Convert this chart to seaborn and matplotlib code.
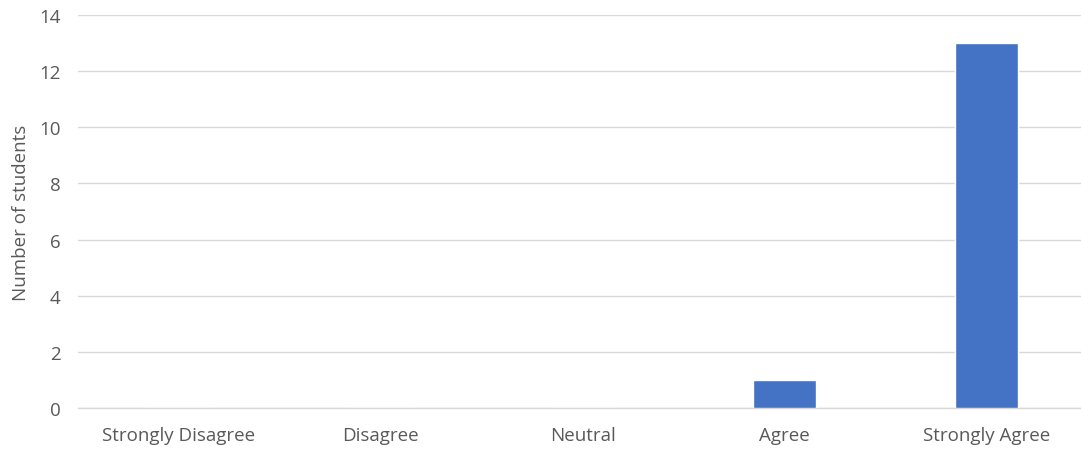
import pandas as pd
import matplotlib
matplotlib.use("Agg")
import matplotlib.pyplot as plt
import seaborn as sns

# survey responses
categories = ["Strongly Disagree", "Disagree", "Neutral", "Agree", "Strongly Agree"]
counts = [0, 0, 0, 1, 13]
y_ticks = [0, 2, 4, 6, 8, 10, 12, 14]

df = pd.DataFrame({"Response": categories, "Students": counts})

sns.set_style("white")
plt.rcParams["font.family"] = ["Open Sans", "DejaVu Sans"]

fig = plt.figure(figsize=(10.81, 4.52), dpi=100)
ax = fig.add_axes([77.5 / 1081, 1 - 409 / 452, 1003.5 / 1081, (409 - 16) / 452])

sns.barplot(data=df, x="Response", y="Students", color="#4472C4",
            width=0.31, saturation=1, ax=ax, zorder=3)

ax.set_xlim(-0.5, -0.5 + 1003.5 / 202)
ax.set_ylim(0, 14)
ax.set_yticks(y_ticks)
ax.yaxis.grid(True, color="#D9D9D9", linewidth=1, zorder=0)

for s in ["top", "right", "left"]:
    ax.spines[s].set_visible(False)
ax.spines["bottom"].set_color("#D9D9D9")
ax.spines["bottom"].set_linewidth(1)

ax.tick_params(axis="both", length=0, labelsize=13.5, colors="#595959")
ax.tick_params(axis="x", pad=13)
ax.tick_params(axis="y", pad=12)
ax.set_xlabel("")
ax.set_ylabel("Number of students", fontsize=13.5, color="#595959", labelpad=7)

fig.savefig("out.png", dpi=100)
